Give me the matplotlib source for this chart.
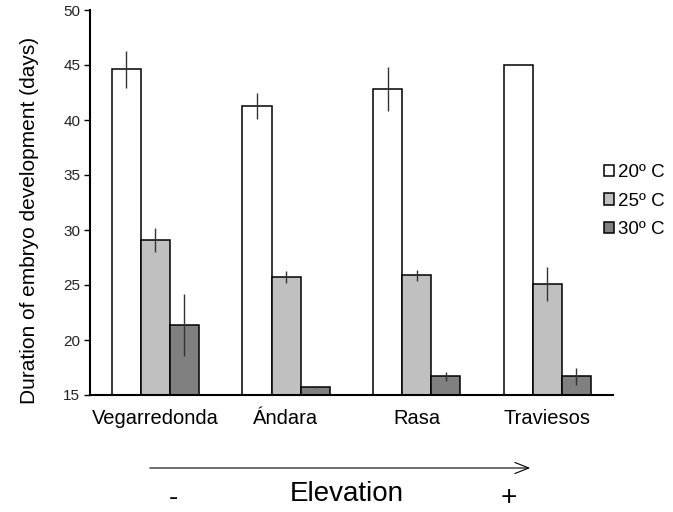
import matplotlib
matplotlib.use('Agg')
import matplotlib.pyplot as plt
import numpy as np

plt.rcParams['font.family'] = ['Liberation Sans', 'DejaVu Sans']

# ===================== data =============================
sites = ['Vegarredonda', 'Ándara', 'Rasa', 'Traviesos']
temps = ['20º C', '25º C', '30º C']
mean_20 = [44.6, 41.25, 42.8, 45.0]
err_20 = [1.7, 1.2, 2.0, 0.0]
mean_25 = [29.1, 25.75, 25.9, 25.1]
err_25 = [1.1, 0.55, 0.5, 1.55]
mean_30 = [21.35, 15.7, 16.7, 16.7]
err_30 = [2.8, 0.1, 0.4, 0.8]

colors = ['#ffffff', '#c0c0c0', '#808080']

# ===================== drawing =============================
fig = plt.figure(figsize=(6.73, 5.12), dpi=100)
ax = fig.add_axes([90 / 673, 1 - 395 / 512, 522.7 / 673, 385 / 512])

x = np.arange(len(sites))
w = 0.222
means = [mean_20, mean_25, mean_30]
errs = [err_20, err_25, err_30]
for i in range(3):
    ax.bar(x + (i - 1) * w, np.array(means[i]) - 15, w, bottom=15,
           color=colors[i], edgecolor='black', linewidth=1.1, label=temps[i], zorder=2)
    ax.errorbar(x + (i - 1) * w, means[i], yerr=errs[i], fmt='none',
                ecolor='#333333', elinewidth=1.0, capsize=0, zorder=3)

ax.set_xlim(-0.5, 3.5)
ax.set_ylim(15, 50)
ax.set_yticks(range(15, 51, 5))
ax.set_xticks(x)
ax.set_xticklabels(sites, fontsize=14.5)
ax.tick_params(axis='x', length=0, pad=10)
ax.tick_params(axis='y', direction='out', length=4, width=1, labelsize=11, labelcolor='#222222', pad=3)
ax.spines['top'].set_visible(False)
ax.spines['right'].set_visible(False)
ax.spines['left'].set_linewidth(1.5)
ax.spines['bottom'].set_linewidth(1.5)

fig.text(30 / 673, 1 - 220 / 512, 'Duration of embryo development (days)',
         rotation=90, ha='center', va='center', fontsize=15)

ax.legend(loc='center left', bbox_to_anchor=(604 / 673, 1 - 201 / 512),
          bbox_transform=fig.transFigure, frameon=False, fontsize=13.5,
          handlelength=0.55, handleheight=0.55, handletextpad=0.2,
          labelspacing=0.62, borderpad=0, borderaxespad=0)

# elevation arrow
fig.add_artist(matplotlib.patches.FancyArrowPatch(
    (147 / 673, 1 - 468 / 512), (533 / 673, 1 - 468 / 512),
    transform=fig.transFigure, arrowstyle='->,head_length=10,head_width=4',
    color='black', linewidth=0.8, mutation_scale=1))
fig.text(347 / 673, 1 - 494 / 512, 'Elevation', ha='center', va='center', fontsize=20)
fig.text(173 / 673, 1 - 498 / 512, '-', ha='center', va='center', fontsize=20)
fig.text(509 / 673, 1 - 498 / 512, '+', ha='center', va='center', fontsize=20)

fig.savefig('out.png', dpi=100)
